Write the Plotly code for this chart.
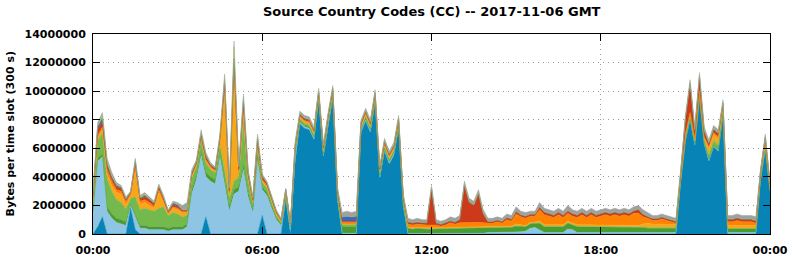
import pandas as pd
import plotly.graph_objects as go

# Time slots (10-minute sampling of the 300 s slots), 2017-11-06 00:00 .. 2017-11-07 00:00
times = pd.date_range("2017-11-06 00:00", "2017-11-07 00:00", freq="10min")

# Stacked layer values, in millions of bytes per slot (bottom -> top)
dark_blue = [
    0, 0.5, 1.2, 0, 0, 0, 0, 0, 1.8, 0.3, 0, 0,
    0, 0, 0, 0, 0, 0, 0, 0, 0, 0, 0, 0,
    1.2, 0, 0, 0, 0, 0, 0, 0, 0, 0, 0, 0,
    1.3, 0, 0, 0, 0, 2.4, 0, 5.0, 7.7, 7.4, 7.3, 6.6,
    9.3, 5.4, 7.6, 9.5, 2.4, 0, 0, 0, 0, 7.1, 7.9, 7.1,
    9.2, 3.9, 5.8, 4.9, 5.5, 7.4, 1.9, 0, 0, 0, 0, 0,
    0, 0, 0, 0, 0, 0, 0, 0, 0, 0, 0, 0,
    0, 0, 0, 0, 0, 0, 0, 0, 0, 0, 0, 0,
    0, 0, 0, 0, 0, 0, 0, 0, 0, 0, 0, 0,
    0, 0, 0, 0, 0, 0, 0, 0, 0, 0, 0, 0,
    0, 0, 0, 0, 0, 3.6, 6.5, 8.0, 6.2, 9.5, 6.3, 5.1,
    6.1, 5.8, 8.3, 0, 0, 0, 0, 0, 0, 0, 3.8, 5.9,
    3.0]
light_blue = [
    1.4, 4.6, 4.2, 1.6, 1.1, 0.8, 0.7, 0.6, 0.2, 0.9, 0.4, 0.4,
    0.3, 0.3, 0.3, 0.3, 0.2, 0.3, 0.3, 0.3, 0.5, 2.8, 3.8, 5.5,
    2.8, 3.7, 3.5, 5.4, 3.5, 1.6, 2.8, 3.0, 4.5, 2.6, 1.5, 5.2,
    1.8, 2.7, 1.8, 1.0, 0.6, 0.2, 0.4, 0.6, 0.1, 0.1, 0.1, 0.1,
    0.1, 0.1, 0.1, 0.1, 0.1, 0.05, 0.05, 0.05, 0.05, 0.1, 0.1, 0.1,
    0.1, 0.1, 0.1, 0.1, 0.1, 0.1, 0.1, 0.03, 0.03, 0.03, 0.03, 0.03,
    0.03, 0.03, 0.03, 0.03, 0.03, 0.03, 0.03, 0.05, 0.05, 0.05, 0.05, 0.05,
    0.1, 0.1, 0.1, 0.1, 0.1, 0.1, 0.15, 0.15, 0.2, 0.4, 0.45, 0.3,
    0.1, 0.1, 0.1, 0.1, 0.1, 0.35, 0.3, 0.1, 0.1, 0.1, 0.1, 0.1,
    0.1, 0.1, 0.1, 0.1, 0.1, 0.1, 0.1, 0.1, 0.1, 0.1, 0.1, 0.1,
    0.1, 0.1, 0.1, 0.1, 0.1, 0.05, 0.05, 0.05, 0.05, 0.05, 0.05, 0.05,
    0.05, 0.05, 0.05, 0.1, 0.1, 0.1, 0.1, 0.1, 0.1, 0.1, 0.05, 0.05,
    0]
dark_green = [
    0.2, 0.2, 0.2, 0.3, 0.3, 0.3, 0.3, 0.25, 0.1, 0.2, 0.2, 0.2,
    0.2, 0.2, 0.2, 0.2, 0.2, 0.2, 0.2, 0.2, 0.2, 0.3, 0.3, 0.3,
    0.3, 0.3, 0.3, 0.3, 0.3, 0.3, 0.3, 0.3, 0.3, 0.3, 0.2, 0.3,
    0.2, 0.2, 0.2, 0.15, 0.1, 0.05, 0.1, 0.1, 0.1, 0.1, 0.1, 0.1,
    0.1, 0.1, 0.1, 0.1, 0.1, 0.45, 0.45, 0.45, 0.45, 0.1, 0.1, 0.1,
    0.1, 0.1, 0.1, 0.1, 0.1, 0.1, 0.1, 0.35, 0.3, 0.35, 0.3, 0.3,
    0.3, 0.3, 0.3, 0.3, 0.35, 0.35, 0.35, 0.35, 0.35, 0.35, 0.35, 0.35,
    0.35, 0.35, 0.35, 0.35, 0.35, 0.35, 0.4, 0.35, 0.3, 0.3, 0.3, 0.45,
    0.4, 0.4, 0.4, 0.4, 0.4, 0.4, 0.35, 0.4, 0.4, 0.4, 0.4, 0.4,
    0.4, 0.4, 0.4, 0.4, 0.4, 0.4, 0.4, 0.4, 0.35, 0.35, 0.3, 0.3,
    0.3, 0.3, 0.3, 0.3, 0.3, 0.1, 0.1, 0.1, 0.1, 0.1, 0.1, 0.1,
    0.1, 0.1, 0.1, 0.25, 0.25, 0.25, 0.25, 0.25, 0.25, 0.25, 0.1, 0.1,
    0.05]
light_green = [
    0.6, 1.2, 1.5, 2.0, 1.6, 1.3, 1.2, 0.9, 0.4, 1.2, 1.1, 1.2,
    1.2, 1.1, 1.3, 1.4, 0.9, 1.0, 0.9, 0.7, 0.6, 0.8, 0.6, 0.8,
    0.7, 0.5, 0.5, 0.6, 0.7, 0.6, 0.6, 0.7, 3.0, 0.8, 0.4, 0.6,
    0.3, 0.3, 0.2, 0.15, 0.1, 0.05, 0.05, 0.2, 0.15, 0.15, 0.15, 0.15,
    0.15, 0.15, 0.15, 0.15, 0.15, 0.15, 0.15, 0.15, 0.15, 0.15, 0.15, 0.15,
    0.15, 0.15, 0.15, 0.15, 0.15, 0.15, 0.15, 0.05, 0.05, 0.05, 0.05, 0.05,
    0.05, 0.05, 0.05, 0.05, 0.05, 0.05, 0.05, 0.05, 0.05, 0.05, 0.05, 0.05,
    0.05, 0.05, 0.05, 0.05, 0.05, 0.05, 0.05, 0.05, 0.05, 0.05, 0.05, 0.05,
    0.05, 0.05, 0.05, 0.05, 0.05, 0.05, 0.05, 0.05, 0.05, 0.05, 0.05, 0.05,
    0.05, 0.05, 0.05, 0.05, 0.05, 0.05, 0.05, 0.05, 0.05, 0.05, 0.05, 0.05,
    0.05, 0.05, 0.05, 0.05, 0.05, 0.1, 0.15, 0.15, 0.15, 0.15, 0.15, 0.3,
    0.3, 0.3, 0.3, 0.05, 0.05, 0.05, 0.05, 0.05, 0.05, 0.05, 0.1, 0.15,
    0.1]
amber = [
    0.2, 0.2, 0.2, 0.3, 0.4, 0.5, 0.6, 0.3, 0.2, 1.8, 0.4, 0.4,
    0.3, 0.2, 1.1, 0.3, 0.1, 0.3, 0.3, 0.3, 0.2, 0.1, 0.1, 0.1,
    0.1, 0.1, 0.1, 0.2, 5.5, 0.3, 8.0, 0.3, 0.6, 0.2, 0.1, 0.1,
    0.1, 0.1, 0.1, 0.1, 0.1, 0.3, 0.1, 0.1, 0.1, 0.1, 0.1, 0.1,
    0.1, 0.1, 0.1, 0.1, 0.1, 0.05, 0.05, 0.05, 0.05, 0.1, 0.1, 0.1,
    0.1, 0.1, 0.1, 0.1, 0.1, 0.1, 0.1, 0.05, 0.05, 0.05, 0.05, 0.05,
    0.05, 0.05, 0.02, 0.05, 0.05, 0.05, 0.05, 0.05, 0.05, 0.05, 0.05, 0.05,
    0.05, 0.05, 0.05, 0.05, 0.05, 0.05, 0.1, 0.1, 0.05, 0.05, 0.05, 0.1,
    0.1, 0.1, 0.1, 0.1, 0.1, 0.1, 0.05, 0.1, 0.1, 0.1, 0.1, 0.1,
    0.1, 0.1, 0.1, 0.1, 0.1, 0.1, 0.1, 0.1, 0.1, 0.2, 0.3, 0.25,
    0.25, 0.25, 0.25, 0.25, 0.2, 0.1, 0.1, 0.1, 0.1, 0.1, 0.1, 0.4,
    0.4, 0.4, 0.1, 0.2, 0.2, 0.2, 0.2, 0.2, 0.2, 0.2, 0.1, 0.15,
    0.1]
orange = [
    0.1, 0.2, 0.2, 0.3, 0.3, 0.2, 0.2, 0.2, 0.1, 0.3, 0.2, 0.2,
    0.2, 0.15, 0.2, 0.15, 0.05, 0.1, 0.1, 0.05, 0.05, 0.1, 0.1, 0.1,
    0.1, 0.1, 0.05, 0.1, 0.3, 0.1, 0.2, 0.1, 0.3, 0.1, 0.1, 0.1,
    0.1, 0.1, 0.1, 0.05, 0.05, 0.05, 0.03, 0.1, 0.1, 0.1, 0.1, 0.1,
    0.1, 0.1, 0.1, 0.1, 0.1, 0.1, 0.1, 0.1, 0.1, 0.1, 0.1, 0.1,
    0.1, 0.1, 0.1, 0.1, 0.1, 0.1, 0.1, 0.2, 0.2, 0.2, 0.2, 0.2,
    0.2, 0.2, 0.15, 0.2, 0.3, 0.2, 0.3, 0.3, 0.3, 0.3, 0.3, 0.3,
    0.2, 0.2, 0.3, 0.2, 0.45, 0.35, 0.7, 0.55, 0.5, 0.45, 0.4, 0.8,
    0.7, 0.6, 0.5, 0.7, 0.5, 0.55, 0.5, 0.5, 0.7, 0.5, 0.7, 0.5,
    0.6, 0.7, 0.6, 0.7, 0.6, 0.7, 0.6, 0.8, 0.85, 0.5, 0.35, 0.25,
    0.25, 0.35, 0.25, 0.15, 0.1, 0.1, 0.1, 0.1, 0.1, 0.1, 0.1, 0.15,
    0.15, 0.15, 0.1, 0.25, 0.25, 0.35, 0.25, 0.25, 0.25, 0.15, 0.15, 0.25,
    0.15]
red = [
    0.2, 0.4, 0.4, 0.3, 0.2, 0.2, 0.2, 0.15, 0.1, 0.3, 0.15, 0.2,
    0.2, 0.15, 0.2, 0.15, 0.1, 0.15, 0.15, 0.1, 0.1, 0.1, 0.1, 0.1,
    0.2, 0.1, 0.1, 0.1, 0.3, 0.1, 0.3, 0.1, 0.5, 0.2, 0.1, 0.3,
    0.2, 0.1, 0.1, 0.1, 0.05, 0.05, 0.05, 0.1, 0.1, 0.1, 0.1, 0.1,
    0.1, 0.1, 0.1, 0.1, 0.1, 0.1, 0.1, 0.1, 0.1, 0.1, 0.1, 0.1,
    0.1, 0.1, 0.1, 0.1, 0.1, 0.1, 0.1, 0.12, 0.12, 0.12, 0.12, 0.12,
    2.52, 0.12, 0.1, 0.12, 0.12, 0.12, 0.22, 2.6, 1.4, 1.2, 2.0, 0.6,
    0.1, 0.1, 0.1, 0.1, 0.12, 0.12, 0.15, 0.12, 0.12, 0.1, 0.1, 0.15,
    0.15, 0.15, 0.15, 0.15, 0.15, 0.15, 0.15, 0.15, 0.15, 0.15, 0.15, 0.15,
    0.15, 0.15, 0.15, 0.15, 0.15, 0.15, 0.15, 0.15, 0.25, 0.15, 0.1, 0.1,
    0.1, 0.1, 0.1, 0.1, 0.1, 0.2, 1.0, 2.0, 0.5, 1.0, 0.4, 0.2,
    0.2, 0.2, 0.2, 0.15, 0.15, 0.15, 0.15, 0.15, 0.15, 0.15, 0.1, 0.15,
    0.1]
blue = [
    0.1, 0.2, 0.2, 0.1, 0.1, 0.1, 0.05, 0.05, 0.03, 0.1, 0.05, 0.1,
    0.05, 0.05, 0.05, 0.05, 0.05, 0.1, 0.1, 0.05, 0.05, 0.1, 0.05, 0.1,
    0.1, 0.05, 0.05, 0.1, 0.2, 0.1, 0.1, 0.1, 0.2, 0.1, 0.05, 0.1,
    0.05, 0.05, 0.05, 0.05, 0.02, 0.02, 0.02, 0.05, 0.05, 0.05, 0.05, 0.05,
    0.05, 0.05, 0.05, 0.05, 0.05, 0.3, 0.35, 0.3, 0.35, 0.05, 0.05, 0.05,
    0.05, 0.05, 0.05, 0.05, 0.05, 0.05, 0.05, 0.05, 0.05, 0.05, 0.05, 0.05,
    0.05, 0.05, 0.05, 0.05, 0.05, 0.05, 0.05, 0.05, 0.05, 0.05, 0.05, 0.05,
    0.05, 0.05, 0.05, 0.05, 0.05, 0.05, 0.05, 0.05, 0.05, 0.05, 0.05, 0.05,
    0.05, 0.05, 0.05, 0.05, 0.05, 0.05, 0.05, 0.05, 0.05, 0.05, 0.05, 0.05,
    0.05, 0.05, 0.05, 0.05, 0.05, 0.05, 0.05, 0.05, 0.05, 0.05, 0.05, 0.05,
    0.05, 0.05, 0.05, 0.05, 0.05, 0.05, 0.05, 0.05, 0.05, 0.05, 0.05, 0.05,
    0.05, 0.05, 0.05, 0.05, 0.05, 0.05, 0.05, 0.05, 0.05, 0.05, 0.05, 0.05,
    0]
lime = [
    0.05, 0.1, 0.2, 0.2, 0.1, 0.1, 0.05, 0.05, 0.02, 0.1, 0.1, 0.1,
    0.05, 0.05, 0.05, 0.05, 0.02, 0.05, 0.05, 0, 0, 0.05, 0.05, 0.1,
    0.1, 0.05, 0.05, 0.1, 0.2, 0.1, 0.8, 0.1, 0.2, 0.1, 0.05, 0.1,
    0.05, 0.05, 0.05, 0, 0, 0, 0, 0.05, 0.05, 0.05, 0.05, 0.05,
    0.05, 0.05, 0.05, 0.05, 0.05, 0, 0, 0, 0, 0.05, 0.05, 0.05,
    0.05, 0.05, 0.05, 0.05, 0.05, 0.05, 0.05, 0, 0, 0, 0, 0,
    0, 0, 0, 0, 0, 0, 0, 0, 0, 0, 0, 0,
    0, 0, 0, 0, 0, 0, 0, 0, 0, 0, 0, 0,
    0, 0, 0, 0, 0, 0, 0, 0, 0, 0, 0, 0,
    0, 0, 0, 0, 0, 0, 0, 0, 0, 0, 0, 0,
    0, 0, 0, 0, 0, 0, 0.05, 0.05, 0.05, 0.05, 0.05, 0.05,
    0.05, 0.05, 0, 0, 0, 0, 0, 0, 0, 0, 0, 0,
    0]
gray = [
    0.15, 0.2, 0.2, 0.2, 0.2, 0.1, 0.1, 0.1, 0.05, 0.1, 0.1, 0.1,
    0.1, 0.1, 0.1, 0.1, 0.08, 0.1, 0.1, 0.3, 0.5, 0.15, 0.1, 0.2,
    0.1, 0.1, 0.05, 0.1, 0.2, 0.1, 0.4, 0.1, 0.2, 0.1, 0.1, 0.2,
    0.1, 0.1, 0.1, 0.1, 0.08, 0.08, 0.05, 0.2, 0.15, 0.15, 0.15, 0.15,
    0.15, 0.15, 0.15, 0.15, 0.15, 0.3, 0.35, 0.3, 0.35, 0.15, 0.15, 0.15,
    0.15, 0.15, 0.15, 0.15, 0.15, 0.15, 0.15, 0.25, 0.2, 0.25, 0.2, 0.2,
    0.2, 0.2, 0.2, 0.2, 0.25, 0.25, 0.25, 0.25, 0.25, 0.25, 0.25, 0.25,
    0.2, 0.2, 0.2, 0.2, 0.23, 0.23, 0.3, 0.23, 0.23, 0.2, 0.2, 0.3,
    0.25, 0.25, 0.25, 0.25, 0.25, 0.35, 0.25, 0.25, 0.25, 0.25, 0.25, 0.25,
    0.25, 0.25, 0.25, 0.25, 0.25, 0.25, 0.25, 0.25, 0.25, 0.3, 0.25, 0.2,
    0.2, 0.2, 0.2, 0.2, 0.2, 0.2, 0.2, 0.2, 0.2, 0.2, 0.2, 0.2,
    0.2, 0.2, 0.2, 0.25, 0.25, 0.25, 0.25, 0.25, 0.25, 0.25, 0.15, 0.2,
    0.1]

layers = [
    ("cc1", dark_blue, "#0784b5"),
    ("cc2", light_blue, "#8ec5e5"),
    ("cc3", dark_green, "#4a9b30"),
    ("cc4", light_green, "#74b94e"),
    ("cc5", amber, "#f8a71a"),
    ("cc6", orange, "#ff8200"),
    ("cc7", red, "#cc3a1a"),
    ("cc8", blue, "#3868c0"),
    ("cc9", lime, "#9ccb3a"),
    ("cc10", gray, "#a0a0a0"),
]

UNIT = 1e6
fig = go.Figure()
for name, vals, col in layers:
    fig.add_trace(go.Scatter(
        x=times, y=[v * UNIT for v in vals], name=name,
        mode="lines", stackgroup="one",
        line=dict(width=0.5, color=col), fillcolor=col,
        showlegend=False, hoverinfo="skip",
    ))

FONT = "DejaVu Sans"
axis_common = dict(
    showline=True, linecolor="black", linewidth=1, mirror="ticks",
    ticks="inside", ticklen=7, tickcolor="black", tickwidth=1,
    showgrid=True, gridcolor="#9a9a9a", gridwidth=1, griddash="1px,4px",
    zeroline=False, automargin=False,
    tickfont=dict(family=FONT, size=11, color="black", weight="bold"),
)

fig.update_layout(
    width=792, height=259,
    margin=dict(l=93, r=22, t=34, b=25),
    paper_bgcolor="white", plot_bgcolor="white",
    template="none",
    font=dict(family=FONT, size=11, color="black"),
    xaxis=dict(
        type="date",
        range=["2017-11-06 00:00", "2017-11-07 00:00"],
        tick0="2017-11-06 00:00", dtick=6 * 3600 * 1000,
        tickformat="%H:%M", ticklabelstandoff=6,
        **axis_common,
    ),
    yaxis=dict(
        range=[0, 14e6], dtick=2e6, tickformat="d",
        ticklabelstandoff=4,
        **axis_common,
    ),
    annotations=[
        dict(text="Source Country Codes (CC) -- 2017-11-06 GMT",
             xref="paper", yref="paper", x=0.5, y=1.115,
             xanchor="center", yanchor="middle", showarrow=False,
             font=dict(family=FONT, size=13, color="black", weight="bold")),
        dict(text="Bytes per time slot (300 s)",
             xref="paper", yref="paper", x=-0.122, y=0.5,
             xanchor="center", yanchor="middle", textangle=-90, showarrow=False,
             font=dict(family=FONT, size=11, color="black", weight="bold")),
    ],
)

fig.write_html("out.html")
